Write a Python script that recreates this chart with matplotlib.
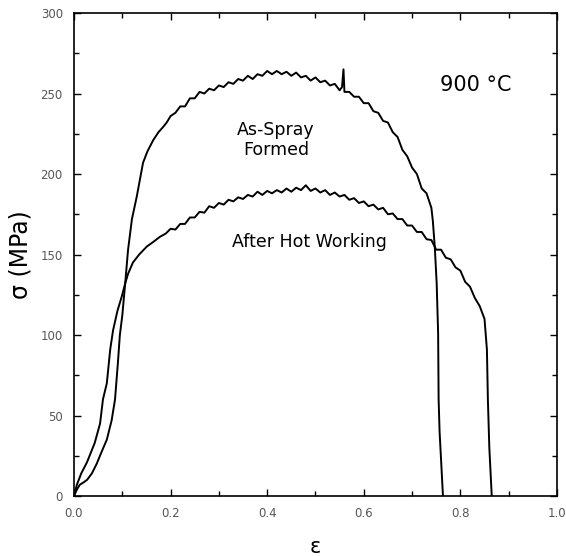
import matplotlib
matplotlib.use("Agg")
import matplotlib.pyplot as plt
from matplotlib.ticker import MultipleLocator

# As-spray formed curve (strain, stress in MPa)
as_strain = [0.0, 0.006, 0.012, 0.02, 0.027, 0.037, 0.047, 0.058, 0.068, 0.078, 0.085,
             0.091, 0.095, 0.1, 0.106, 0.112, 0.12, 0.13, 0.143, 0.152, 0.164, 0.175, 0.184, 0.192,
             0.20, 0.21, 0.22, 0.23, 0.24, 0.25, 0.26, 0.27, 0.28, 0.29, 0.30, 0.31, 0.32,
             0.33, 0.34, 0.35, 0.36, 0.37, 0.38, 0.39, 0.40, 0.41, 0.42, 0.43, 0.44, 0.45,
             0.46, 0.47, 0.48, 0.49, 0.50, 0.51, 0.52, 0.53, 0.54, 0.55, 0.555, 0.558, 0.56,
             0.57, 0.58, 0.59, 0.60, 0.61, 0.62, 0.63, 0.64, 0.65, 0.66, 0.67, 0.68, 0.69,
             0.70, 0.71, 0.72, 0.73, 0.74, 0.743, 0.747, 0.751, 0.754, 0.755, 0.757, 0.764]
as_stress = [0, 4, 7, 8.5, 10, 14, 20, 28, 35, 47, 60,
             83, 100, 112, 132, 153, 172, 186, 207, 214, 221, 226, 229, 232,
             236, 238, 242, 242, 247, 247, 251, 250, 253, 252, 255, 254, 257,
             256, 259, 258, 261, 259, 262, 261, 264, 262, 264, 262, 263.5, 261,
             263, 260, 261, 258, 260, 257, 258, 255, 256, 252, 254, 265, 251,
             251, 248, 248, 244, 244, 239, 238, 233, 232, 226, 223, 215, 211,
             204, 200, 191, 188, 179, 171, 155, 132, 101, 60, 40, 0]

# After hot working curve
ahw_strain = [0.0, 0.006, 0.015, 0.027, 0.035, 0.043, 0.054, 0.06, 0.068, 0.075, 0.081,
              0.09, 0.099, 0.106, 0.112, 0.122, 0.135, 0.151, 0.165, 0.178, 0.19,
              0.20, 0.21, 0.22, 0.23, 0.24, 0.25, 0.26, 0.27, 0.28, 0.29, 0.30, 0.31,
              0.32, 0.33, 0.34, 0.35, 0.36, 0.37, 0.38, 0.39, 0.40, 0.41, 0.42, 0.43,
              0.44, 0.45, 0.46, 0.47, 0.48, 0.49, 0.50, 0.51, 0.52, 0.53, 0.54, 0.55,
              0.56, 0.57, 0.58, 0.59, 0.60, 0.61, 0.62, 0.63, 0.64, 0.65, 0.66, 0.67,
              0.68, 0.69, 0.70, 0.71, 0.72, 0.73, 0.74, 0.75, 0.76, 0.77, 0.78, 0.79,
              0.80, 0.81, 0.82, 0.83, 0.84, 0.85, 0.855, 0.857, 0.86, 0.865]
ahw_stress = [0, 7, 14, 21, 27, 33, 45, 60, 70, 91, 103,
              115, 124, 132, 138, 145, 150, 155, 158, 161, 163,
              166, 165.5, 169, 169, 173, 173, 176.5, 176, 180, 179, 182, 181,
              184, 183, 185.5, 184.5, 187, 186, 189, 187, 189.5, 188, 190, 188.5,
              191, 189, 191.5, 190, 193, 189.5, 191, 188.5, 190, 187, 188.5, 186,
              187, 184, 185, 182, 183, 180, 181, 178, 179, 175, 175.5, 172,
              172, 168, 168, 164, 164, 159.5, 159, 153, 153, 148, 147, 142,
              140, 133, 130, 123, 118, 110, 91, 60, 30, 0]

fig = plt.figure(figsize=(5.66, 5.56), dpi=100)
ax = fig.add_axes([0.1307, 0.1079, 0.8533, 0.8687])

ax.plot(as_strain, as_stress, color="black", lw=1.4)
ax.plot(ahw_strain, ahw_stress, color="black", lw=1.4)

ax.set_xlim(0, 1.0)
ax.set_ylim(0, 300)
ax.xaxis.set_major_locator(MultipleLocator(0.2))
ax.xaxis.set_minor_locator(MultipleLocator(0.1))
ax.yaxis.set_major_locator(MultipleLocator(50))
ax.yaxis.set_minor_locator(MultipleLocator(25))
ax.xaxis.set_major_formatter(lambda v, p: f"{v:.1f}")
ax.tick_params(which="both", direction="in", top=True, right=True, width=1.0,
               labelsize=8.5, labelcolor="#555555", pad=8)
ax.tick_params(which="major", length=5)
ax.tick_params(which="minor", length=3.5)
for s in ax.spines.values():
    s.set_linewidth(1.2)

ax.set_xlabel("ε", fontsize=15, labelpad=12)
ax.set_ylabel("σ (MPa)", fontsize=17, labelpad=6)

ax.text(0.418, 221, "As-Spray\nFormed", fontsize=12.5, ha="center", va="center",
        linespacing=1.15)
ax.text(0.487, 158, "After Hot Working", fontsize=12.5, ha="center", va="center")
ax.text(0.832, 255, "900 °C", fontsize=15, ha="center", va="center")

fig.savefig("out.png", dpi=100)
